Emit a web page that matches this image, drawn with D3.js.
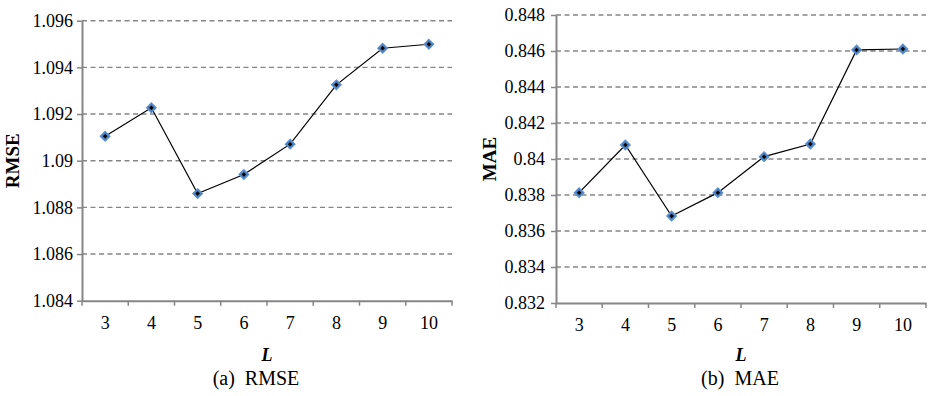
<!DOCTYPE html>
<html><head><meta charset="utf-8">
<script src="https://cdn.jsdelivr.net/npm/d3@7"></script>
<style>body{margin:0;background:#fff}svg{display:block}svg text{font-family:"Liberation Serif","Times New Roman",serif !important;fill:#000}</style>
</head><body>
<svg id="c" width="928" height="396"></svg>
<script>
const categories = ["3","4","5","6","7","8","9","10"];
const rmseValues = [1.09105, 1.09227, 1.08859, 1.08941, 1.09071, 1.09325, 1.09482, 1.09499];
const maeValues = [0.83813, 0.84078, 0.83683, 0.83813, 0.84013, 0.84083, 0.84606, 0.84611];
const rmseTicks = [1.084, 1.086, 1.088, 1.09, 1.092, 1.094, 1.096];
const maeTicks = [0.832, 0.834, 0.836, 0.838, 0.84, 0.842, 0.844, 0.846, 0.848];
const xTitle = "L";

const svg = d3.select("#c");
const SERIF = '"Liberation Serif","Times New Roman",serif';

function panel(cfg){
  const g = svg.append("g");
  const x = d3.scaleBand().domain(categories).range([cfg.x0, cfg.x1]);
  const y = d3.scaleLinear().domain([cfg.ticks[0], cfg.ticks[cfg.ticks.length-1]]).range([cfg.y1, cfg.y0]);
  // grid
  g.selectAll(".grid").data(cfg.ticks.slice(1)).join("line")
    .attr("x1", cfg.x0).attr("x2", cfg.x1)
    .attr("y1", d=>y(d)).attr("y2", d=>y(d))
    .attr("stroke", "#858585").attr("stroke-width", 1.4).attr("stroke-dasharray", "5,3.5");
  // y axis
  const ya = d3.axisLeft(y).tickValues(cfg.ticks).tickFormat(d=>String(+d.toFixed(3))).tickSize(5).tickSizeOuter(0).tickPadding(cfg.ypad);
  const yg = g.append("g").attr("transform", `translate(${cfg.x0},0)`).call(ya);
  yg.attr("font-family", SERIF).attr("font-size", 18);
  yg.select(".domain").attr("stroke", "#868686").attr("stroke-width", 2);
  yg.selectAll(".tick line").attr("stroke", "#868686").attr("stroke-width", 1.5);
  yg.selectAll(".tick text").style("font-size", "18px").style("font-family", SERIF).attr("fill", "#000");
  // x axis
  const xa = d3.axisBottom(x).tickSize(0).tickPadding(0);
  const xg = g.append("g").attr("transform", `translate(0,${cfg.y1})`).call(xa);
  xg.attr("font-family", SERIF).attr("font-size", 18);
  xg.select(".domain").attr("stroke", "#868686").attr("stroke-width", 2);
  xg.selectAll(".tick text").style("font-size", "18px").style("font-family", SERIF).attr("fill", "#000").attr("dy", null).attr("y", 28);
  // x tick marks at band boundaries
  const bounds = categories.map(c=>x(c)).concat([cfg.x1]);
  xg.selectAll(".bt").data(bounds).join("line")
    .attr("x1", d=>d).attr("x2", d=>d).attr("y1", 0).attr("y2", 5)
    .attr("stroke", "#868686").attr("stroke-width", 1.5);
  // line
  const cx = c => x(c) + x.bandwidth()/2;
  g.append("path").datum(cfg.values)
    .attr("fill", "none").attr("stroke", "#000").attr("stroke-width", 1.2)
    .attr("d", d3.line().x((d,i)=>cx(categories[i])).y(d=>y(d)));
  // markers
  const sym = d3.symbol().type(d3.symbolDiamond2);
  g.selectAll(".m").data(cfg.values).join("path")
    .attr("transform", (d,i)=>`translate(${cx(categories[i])},${y(d)})`)
    .attr("d", sym.size(60)())
    .attr("fill", "#4a7ebb").attr("stroke", "#5b8fd0").attr("stroke-width", 1.2);
  g.selectAll(".mi").data(cfg.values).join("path")
    .attr("transform", (d,i)=>`translate(${cx(categories[i])},${y(d)})`)
    .attr("d", sym.size(13)())
    .attr("fill", "#000");
  // y title
  g.append("text").attr("transform", `translate(${cfg.ytx},${(cfg.y0+cfg.y1)/2}) rotate(-90)`)
    .attr("text-anchor", "middle").attr("dy", "0.35em")
    .style("font-size", "19px").attr("font-weight", "bold").text(cfg.ytitle);
  // x title
  g.append("text").attr("x", (cfg.x0+cfg.x1)/2).attr("y", 361)
    .attr("text-anchor", "middle").style("font-size", "18px").attr("font-weight", "bold").attr("font-style", "italic").text(xTitle);
  // caption
  g.append("text").attr("x", cfg.capx).attr("y", 385).attr("text-anchor", "middle")
    .style("font-size", "20px").attr("xml:space", "preserve").style("white-space", "pre").text(cfg.caption);
}

panel({x0:82, x1:452, y0:20.7, y1:300.7, ticks:rmseTicks, values:rmseValues, ypad:4, ytx:12.5, ytitle:"RMSE", capx:256, caption:"(a)  RMSE"});
panel({x0:556, x1:926, y0:15, y1:303, ticks:maeTicks, values:maeValues, ypad:6, ytx:489, ytitle:"MAE", capx:740, caption:"(b)  MAE"});
</script>
</body></html>
